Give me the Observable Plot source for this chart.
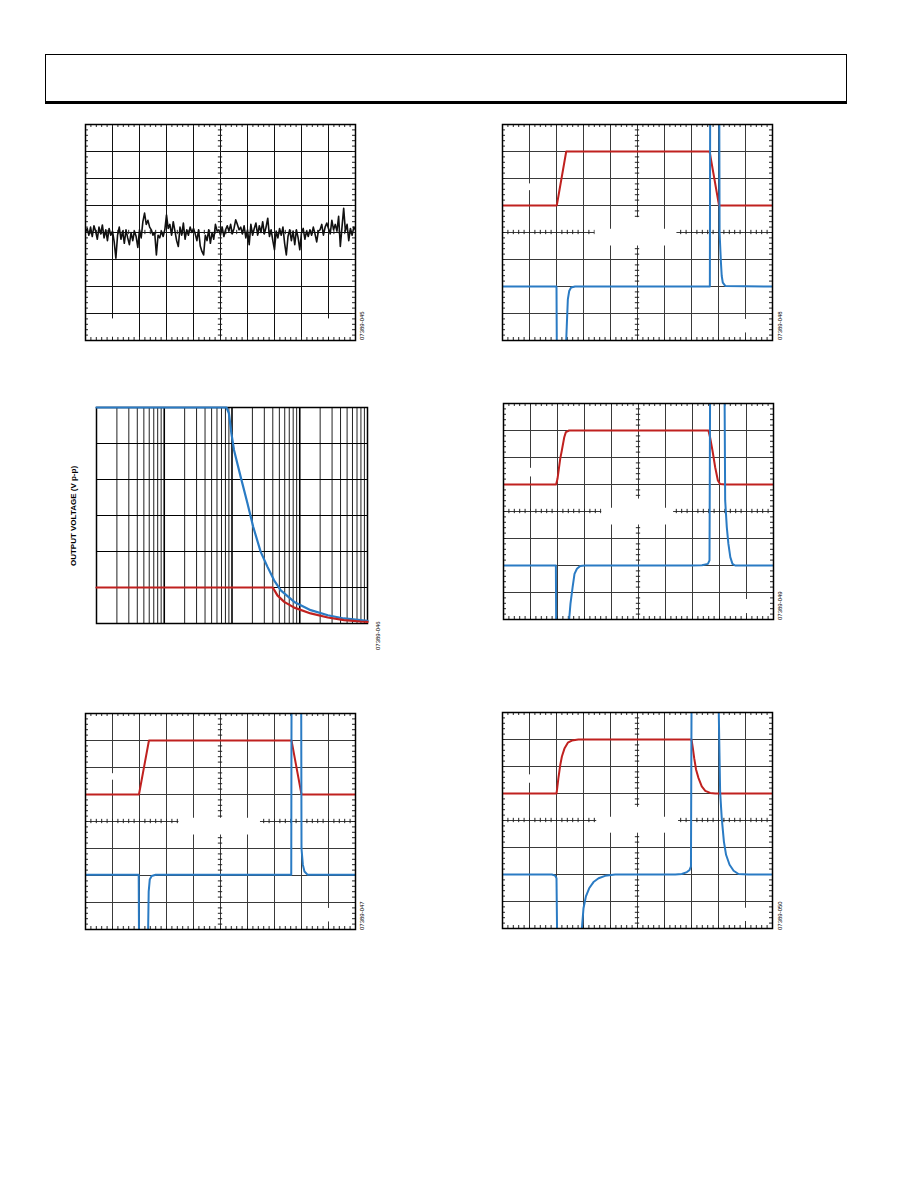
<!DOCTYPE html>
<html><head><meta charset="utf-8">
<script src="https://cdn.jsdelivr.net/npm/d3@7"></script>
<script src="https://cdn.jsdelivr.net/npm/@observablehq/plot@0.6"></script>
<style>
html,body{margin:0;padding:0;background:#fff;}
#page{position:relative;width:918px;height:1188px;background:#fff;font-family:"Liberation Sans",Arial,sans-serif;overflow:hidden;}
.panel{position:absolute;}
.fig{position:absolute;font-size:6px;line-height:6px;transform-origin:0 0;transform:rotate(-90deg);white-space:nowrap;color:#000;}
#header{position:absolute;left:45px;top:54px;width:800px;height:46px;border:1px solid #000;border-bottom:3px solid #000;}
#ylab{position:absolute;font-size:8px;font-weight:bold;white-space:nowrap;transform:translate(-50%,-50%) rotate(-90deg);color:#000;}
</style></head><body>
<div id="page"><div id="header"></div></div>
<script>
// ---------- DATA (in screen divisions / volts / hertz) ----------
// Figure 07389-045: noise trace, divisions, evenly sampled over 10 horizontal divisions
const fig45Noise = [
 0.0, 0.15, -0.1, 0.2, -0.15, 0.25, 0.05, -0.25, 0.2, -0.05,
 0.28, -0.2, 0.1, -0.3, 0.15, -0.1, 0.05, -0.35, -0.95, -0.1,
 0.2, -0.25, 0.05, -0.4, 0.1, -0.2, -0.45, 0.0, -0.3, 0.05,
 -0.15, -0.55, 0.1, -0.2, 0.4, 0.72, 0.3, 0.45, 0.2, 0.1,
 -0.1, 0.0, -0.83, -0.1, -0.2, 0.05, -0.15, 0.1, 0.65, 0.15,
 0.3, -0.1, 0.4, 0.05, -0.3, -0.52, 0.2, -0.1, 0.35, -0.25,
 0.1, -0.1, 0.2, 0.0, 0.15, -0.05, -0.3, 0.1, -0.5, -0.7,
 -0.83, -0.1, -0.3, 0.1, -0.4, 0.0, -0.25, 0.3, 0.05, 0.1,
 -0.1, 0.2, -0.15, 0.1, 0.25, 0.05, 0.3, -0.05, 0.15, 0.47,
 0.3, 0.1, 0.2, -0.05, 0.25, -0.2, 0.1, -0.45, 0.3, -0.1,
 0.15, 0.35, -0.1, 0.25, 0.0, 0.4, -0.05, 0.2, 0.53, -0.15,
 0.1, -0.3, -0.64, 0.05, -0.2, 0.15, -0.1, 0.2, -0.4, -0.83,
 -0.15, 0.1, -0.3, 0.05, -0.45, 0.1, -0.2, -0.64, 0.0, 0.15,
 -0.25, 0.05, -0.15, 0.1, -0.1, 0.2, -0.05, -0.35, 0.05, 0.1,
 0.3, -0.1, 0.2, 0.35, 0.15, -0.05, 0.45, 0.1, 0.3, 0.05,
 0.6, -0.52, 0.2, 0.9, 0.05, 0.3, -0.3, 0.15, -0.1, 0.2, 0.1
];

// Figure 07389-046: output voltage (V p-p) vs frequency (Hz)
const fig46BlueFreq = [1e3, 8.3e4, 9.0e4, 9.8e4, 1.07e5, 1.34e5, 1.69e5, 2.06e5, 2.65e5, 3.33e5, 4.18e5, 5.25e5, 8.3e5, 1.45e6, 2.6e6, 4.5e6, 7.9e6, 1e7];
const fig46BlueVpp  = [30, 30, 29.2, 26.4, 24.1, 20.4, 16.7, 13.4, 9.95, 7.9, 6.0, 4.6, 3.0, 1.85, 1.15, 0.7, 0.46, 0.37];
const fig46RedFreq  = [1e3, 4.0e5, 4.68e5, 5.9e5, 8.3e5, 1.45e6, 2.6e6, 4.5e6, 7.9e6, 1e7];
const fig46RedVpp   = [5, 5, 3.9, 3.0, 2.2, 1.4, 0.83, 0.46, 0.28, 0.23];
const fig46YLabel = "OUTPUT VOLTAGE (V p-p)";

// Figure 07389-047 (time and level in divisions; null = trace leaves the screen)
const fig47RedT  = [0, 1.98, 2.35, 7.63, 8.0, 10];
const fig47RedV  = [1, 1, 3, 3, 1, 1];
const fig47BlueT = [0, 1.97, 1.98, 1.99, 2.32, 2.34, 2.38, 2.45, 2.6, 7.62, 7.63, 7.64, 7.99, 8.0, 8.05, 8.11, 8.22, 10];
const fig47BlueV = [-1.97, -1.97, -4, null, -4, -2.6, -2.15, -2.02, -1.97, -1.97, 4, null, 4, -1.0, -1.6, -1.85, -1.97, -1.97];

// Figure 07389-048
const fig48RedT  = [0, 2.01, 2.36, 7.67, 8.02, 10];
const fig48RedV  = [1, 1, 3, 3, 1, 1];
const fig48BlueT = [0, 2.0, 2.01, 2.02, 2.36, 2.38, 2.42, 2.47, 2.54, 2.69, 7.68, 7.69, 7.7, 8.03, 8.04, 8.09, 8.12, 8.16, 8.25, 10];
const fig48BlueV = [-2, -2, -4, null, -4, -3.47, -2.48, -2.17, -2.04, -2, -2, 4, null, 4, 0, -1.11, -1.61, -1.86, -1.98, -2];

// Figure 07389-049
const fig49RedT  = [0, 1.95, 2.0, 2.1, 2.16, 2.25, 2.31, 2.43, 7.59, 7.65, 7.74, 7.84, 7.94, 8.02, 8.21, 10];
const fig49RedV  = [1, 1, 1.21, 1.95, 2.26, 2.75, 2.94, 3, 3, 2.75, 2.26, 1.64, 1.15, 1.02, 1, 1];
const fig49BlueT = [0, 1.94, 1.95, 1.96, 2.43, 2.48, 2.56, 2.63, 2.72, 2.84, 3.02, 6.98, 7.35, 7.57, 7.63, 7.65, 7.66, 8.19, 8.21, 8.27, 8.33, 8.4, 8.48, 8.58, 10];
const fig49BlueV = [-2, -2, -4, null, -4, -3.42, -2.8, -2.31, -2.12, -2.02, -2, -2, -1.99, -1.94, -1.81, 4, null, 4, 0.41, -0.58, -1.2, -1.69, -1.94, -2, -2];

// Figure 07389-050
const fig50RedT  = [0, 2.0, 2.02, 2.07, 2.14, 2.2, 2.3, 2.42, 2.57, 2.81, 7.0, 7.05, 7.1, 7.17, 7.26, 7.38, 7.51, 7.69, 7.88, 10];
const fig50RedV  = [1, 1, 1.14, 1.57, 2.06, 2.37, 2.68, 2.88, 2.96, 3, 3, 2.68, 2.31, 1.88, 1.57, 1.26, 1.1, 1.02, 1, 1];
const fig50BlueT = [0, 1.83, 1.95, 2.0, 2.02, 2.03, 2.94, 3.0, 3.09, 3.21, 3.37, 3.56, 3.8, 4.17, 6.4, 6.64, 6.83, 6.93, 6.98, 7.0, 7.01, 8.01, 8.06, 8.12, 8.2, 8.28, 8.41, 8.56, 8.74, 9.11, 10];
const fig50BlueV = [-2, -2, -2.04, -2.14, -4, null, -4, -3.25, -2.81, -2.51, -2.28, -2.14, -2.05, -2, -2, -1.98, -1.91, -1.83, -1.7, 4, null, 4, 1.07, 0.09, -0.78, -1.27, -1.64, -1.86, -1.98, -2, -2];

// Areas where the original scale labels were erased (chart units)
const fig45Erased = [{x1: 0.88, x2: 1.12, y1: -3.88, y2: -3.2}, {x1: 8.88, x2: 9.12, y1: -3.88, y2: -3.2}];
const fig47Erased = [{x1: 0.88, x2: 1.12, y1: 1.53, y2: 1.77}, {x1: 3.46, x2: 6.48, y1: -0.5, y2: 0.12}, {x1: 8.88, x2: 9.12, y1: -3.72, y2: -3.22}];
const fig48Erased = [{x1: 0.88, x2: 1.12, y1: 1.55, y2: 1.8}, {x1: 3.43, x2: 6.46, y1: -0.5, y2: 0.12}, {x1: 4.85, x2: 5.15, y1: 0, y2: 0.55}, {x1: 8.88, x2: 9.12, y1: -3.72, y2: -3.22}];
const fig49Erased = [{x1: 0.88, x2: 1.12, y1: 1.28, y2: 1.6}, {x1: 3.64, x2: 6.3, y1: -0.5, y2: 0.12}, {x1: 4.85, x2: 5.15, y1: 0, y2: 0.46}, {x1: 8.88, x2: 9.12, y1: -3.78, y2: -3.26}];
const fig50Erased = [{x1: 0.88, x2: 1.12, y1: 1.38, y2: 1.69}, {x1: 3.49, x2: 6.52, y1: -0.47, y2: 0.12}, {x1: 4.85, x2: 5.15, y1: 0, y2: 0.49}, {x1: 8.88, x2: 9.12, y1: -3.74, y2: -3.25}];

const figIds = ["07389-045", "07389-046", "07389-047", "07389-048", "07389-049", "07389-050"];

// ---------- DRAWING ----------
const RED = "#c0211f", BLUE = "#2a7bc4";
const page = document.getElementById("page");

const divX = d3.range(1, 10);
const divY = d3.range(-3, 4);
const minorX = d3.range(0, 51).map(i => i / 5);
const minorY = d3.range(0, 41).map(i => -4 + i / 5);

function pts(t, v) { return t.map((x, i) => ({x, y: v[i]})); }

function scopePlot(traces, erased, gridColor) {
  return Plot.plot({
    width: 278, height: 224,
    marginTop: 4, marginRight: 4, marginBottom: 4, marginLeft: 4,
    x: {domain: [0, 10], axis: null},
    y: {domain: [-4, 4], axis: null},
    style: {background: "transparent", overflow: "visible"},
    marks: [
      Plot.ruleX(divX, {stroke: gridColor, strokeWidth: 1}),
      Plot.ruleY(divY, {stroke: gridColor, strokeWidth: 1}),
      Plot.ruleX(minorX, {y1: 4, y2: 3.89, stroke: "#222"}),
      Plot.ruleX(minorX, {y1: -4, y2: -3.89, stroke: "#222"}),
      Plot.ruleY(minorY, {x1: 0, x2: 0.11, stroke: "#222"}),
      Plot.ruleY(minorY, {x1: 10, x2: 9.89, stroke: "#222"}),
      Plot.ruleX(minorX, {y1: -0.08, y2: 0.08, stroke: "#222"}),
      Plot.ruleY(minorY, {x1: 4.92, x2: 5.08, stroke: "#222"}),
      Plot.rect(erased, {x1: "x1", x2: "x2", y1: "y1", y2: "y2", fill: "white"}),
      ...traces.map(tr => Plot.line(pts(tr.t, tr.v), {x: "x", y: "y", stroke: tr.color, strokeWidth: tr.width || 2, clip: true})),
      Plot.frame({stroke: "#000", strokeWidth: 1.5})
    ]
  });
}

function place(el, left, top) {
  const d = document.createElement("div");
  d.className = "panel";
  d.style.left = left + "px";
  d.style.top = top + "px";
  d.appendChild(el);
  page.appendChild(d);
}
function figLabel(text, left, bottom) {
  const d = document.createElement("div");
  d.className = "fig";
  d.textContent = text;
  d.style.left = left + "px";
  d.style.top = bottom + "px";
  page.appendChild(d);
}

// Figure 45
const noiseT = fig45Noise.map((_, i) => i * 10 / (fig45Noise.length - 1));
place(scopePlot([{t: noiseT, v: fig45Noise, color: "#111", width: 1.6}], fig45Erased, "#111"), 81, 120);
figLabel(figIds[0], 359, 340);

// Figure 46 (log frequency)
const logMinor = [];
for (let k = 3; k <= 6; k++) for (let m = 2; m <= 9; m++) logMinor.push(m * 10 ** k);
const logMajor = [1e4, 1e5, 1e6];
const fig46 = Plot.plot({
  width: 279, height: 224,
  marginTop: 4, marginRight: 4, marginBottom: 4, marginLeft: 4,
  x: {type: "log", domain: [1e3, 1e7], axis: null},
  y: {domain: [0, 30], axis: null},
  style: {background: "transparent", overflow: "visible"},
  marks: [
    Plot.ruleX(logMinor, {stroke: "#222", strokeWidth: 1}),
    Plot.ruleX(logMajor, {stroke: "#000", strokeWidth: 1.6}),
    Plot.ruleY([5, 10, 15, 20, 25], {stroke: "#000", strokeWidth: 1.2}),
    Plot.frame({stroke: "#000", strokeWidth: 1.5}),
    Plot.line(pts(fig46BlueFreq, fig46BlueVpp), {x: "x", y: "y", stroke: BLUE, strokeWidth: 2.2}),
    Plot.line(pts(fig46RedFreq, fig46RedVpp), {x: "x", y: "y", stroke: RED, strokeWidth: 2.2})
  ]
});
place(fig46, 92, 403);
figLabel(figIds[1], 375, 650);
const yl = document.createElement("div");
yl.id = "ylab";
yl.textContent = fig46YLabel;
yl.style.left = "73px";
yl.style.top = "516px";
page.appendChild(yl);

// Figure 47
place(scopePlot([
  {t: fig47RedT, v: fig47RedV, color: RED},
  {t: fig47BlueT, v: fig47BlueV, color: BLUE}
], fig47Erased, "#3a3a3a"), 81, 709);
figLabel(figIds[2], 359, 930);

// Figure 48
place(scopePlot([
  {t: fig48RedT, v: fig48RedV, color: RED},
  {t: fig48BlueT, v: fig48BlueV, color: BLUE}
], fig48Erased, "#3a3a3a"), 498, 120);
figLabel(figIds[3], 777, 340);

// Figure 49
place(scopePlot([
  {t: fig49RedT, v: fig49RedV, color: RED},
  {t: fig49BlueT, v: fig49BlueV, color: BLUE}
], fig49Erased, "#3a3a3a"), 499, 399);
figLabel(figIds[4], 777, 620);

// Figure 50
place(scopePlot([
  {t: fig50RedT, v: fig50RedV, color: RED},
  {t: fig50BlueT, v: fig50BlueV, color: BLUE}
], fig50Erased, "#3a3a3a"), 498, 708);
figLabel(figIds[5], 777, 930);
</script>
</body></html>
